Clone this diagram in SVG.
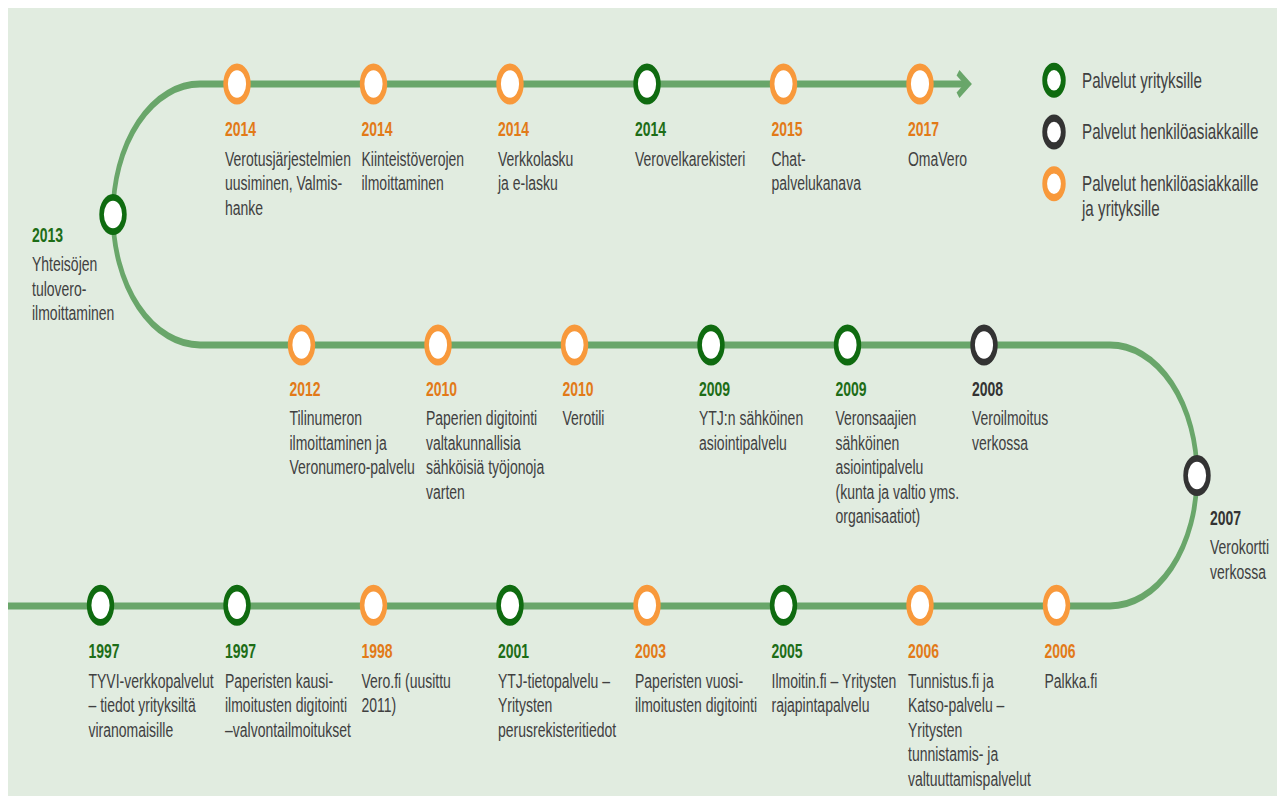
<svg xmlns="http://www.w3.org/2000/svg" width="1277" height="796" viewBox="0 0 1277 796">
<defs>
<style>
.bg{fill:#e1ece0}
.track{fill:none;stroke:#69a66a;stroke-width:4.7}
.arrow{fill:none;stroke:#69a66a;stroke-width:4.7;stroke-linejoin:miter}
.n{fill:#ffffff;stroke-width:4.6}
.lg{fill:#ffffff;stroke-width:4.8}
.g{stroke:#0f6b10}
.o{stroke:#f8993b}
.k{stroke:#333333}
.yr{font-family:"Liberation Sans",Arial,sans-serif;font-size:14px;font-weight:bold}
.yg{fill:#1d6d17}
.yo{fill:#e27a18}
.yk{fill:#333333}
.t{font-family:"Liberation Sans",Arial,sans-serif;font-size:14px;fill:#404040}
.lt{font-family:"Liberation Sans",Arial,sans-serif;font-size:15.2px;fill:#404040}
</style>
</defs>
<rect class="bg" x="8" y="8" width="1269" height="788"/>
<g transform="scale(1,1.5)">
<g id="connectors">
<path class="track" d="M968,56 H200 A87,87 0 0 0 200,230 H1110 A87,87 0 0 1 1110,404 H8"/>
<path class="arrow" d="M958,48.5 L968,56 L958,63.5"/>
</g>

<g id="legend">
<circle class="lg g" cx="1054" cy="53.5" r="9.3"/>
<text class="lt" x="1082" y="58.5">Palvelut yrityksille</text>
<circle class="lg k" cx="1054" cy="88" r="9.3"/>
<text class="lt" x="1082" y="93">Palvelut henkilöasiakkaille</text>
<circle class="lg o" cx="1054" cy="122.5" r="9.3"/>
<text class="lt" x="1082" y="127.5">Palvelut henkilöasiakkaille<tspan x="1082" dy="16.8">ja yrityksille</tspan></text>
</g>

<!-- top row -->
<g id="n2014a">
<circle class="n o" cx="237" cy="56" r="11.4"/>
<text class="yr yo" x="225" y="91">2014</text>
<text class="t" x="225" y="110.5">Verotusjärjestelmien<tspan x="225" dy="16.3">uusiminen, Valmis-</tspan><tspan x="225" dy="16.3">hanke</tspan></text>
</g>
<g id="n2014b">
<circle class="n o" cx="373.5" cy="56" r="11.4"/>
<text class="yr yo" x="361.5" y="91">2014</text>
<text class="t" x="361.5" y="110.5">Kiinteistöverojen<tspan x="361.5" dy="16.3">ilmoittaminen</tspan></text>
</g>
<g id="n2014c">
<circle class="n o" cx="510" cy="56" r="11.4"/>
<text class="yr yo" x="498" y="91">2014</text>
<text class="t" x="498" y="110.5">Verkkolasku<tspan x="498" dy="16.3">ja e-lasku</tspan></text>
</g>
<g id="n2014d">
<circle class="n g" cx="647" cy="56" r="11.4"/>
<text class="yr yg" x="635" y="91">2014</text>
<text class="t" x="635" y="110.5">Verovelkarekisteri</text>
</g>
<g id="n2015">
<circle class="n o" cx="783.5" cy="56" r="11.4"/>
<text class="yr yo" x="771.5" y="91">2015</text>
<text class="t" x="771.5" y="110.5">Chat-<tspan x="771.5" dy="16.3">palvelukanava</tspan></text>
</g>
<g id="n2017">
<circle class="n o" cx="920" cy="56" r="11.4"/>
<text class="yr yo" x="908" y="91">2017</text>
<text class="t" x="908" y="110.5">OmaVero</text>
</g>

<!-- 2013 -->
<g id="n2013">
<circle class="n g" cx="113" cy="143" r="11.4"/>
<text class="yr yg" x="32" y="161.5">2013</text>
<text class="t" x="32" y="180.8">Yhteisöjen<tspan x="32" dy="16.3">tulovero-</tspan><tspan x="32" dy="16.3">ilmoittaminen</tspan></text>
</g>

<!-- middle row -->
<g id="n2012">
<circle class="n o" cx="301.5" cy="230" r="11.4"/>
<text class="yr yo" x="289.5" y="264">2012</text>
<text class="t" x="289.5" y="283.5">Tilinumeron<tspan x="289.5" dy="16.3">ilmoittaminen ja</tspan><tspan x="289.5" dy="16.3">Veronumero-palvelu</tspan></text>
</g>
<g id="n2010a">
<circle class="n o" cx="438" cy="230" r="11.4"/>
<text class="yr yo" x="426" y="264">2010</text>
<text class="t" x="426" y="283.5">Paperien digitointi<tspan x="426" dy="16.3">valtakunnallisia</tspan><tspan x="426" dy="16.3">sähköisiä työjonoja</tspan><tspan x="426" dy="16.3">varten</tspan></text>
</g>
<g id="n2010b">
<circle class="n o" cx="574.5" cy="230" r="11.4"/>
<text class="yr yo" x="562.5" y="264">2010</text>
<text class="t" x="562.5" y="283.5">Verotili</text>
</g>
<g id="n2009a">
<circle class="n g" cx="711" cy="230" r="11.4"/>
<text class="yr yg" x="699" y="264">2009</text>
<text class="t" x="699" y="283.5">YTJ:n sähköinen<tspan x="699" dy="16.3">asiointipalvelu</tspan></text>
</g>
<g id="n2009b">
<circle class="n g" cx="847.5" cy="230" r="11.4"/>
<text class="yr yg" x="835.5" y="264">2009</text>
<text class="t" x="835.5" y="283.5">Veronsaajien<tspan x="835.5" dy="16.3">sähköinen</tspan><tspan x="835.5" dy="16.3">asiointipalvelu</tspan><tspan x="835.5" dy="16.3">(kunta ja valtio yms.</tspan><tspan x="835.5" dy="16.3">organisaatiot)</tspan></text>
</g>
<g id="n2008">
<circle class="n k" cx="984" cy="230" r="11.4"/>
<text class="yr yk" x="972" y="264">2008</text>
<text class="t" x="972" y="283.5">Veroilmoitus<tspan x="972" dy="16.3">verkossa</tspan></text>
</g>

<!-- 2007 -->
<g id="n2007">
<circle class="n k" cx="1197" cy="317" r="11.4"/>
<text class="yr yk" x="1210" y="350">2007</text>
<text class="t" x="1210" y="369.5">Verokortti<tspan x="1210" dy="16.3">verkossa</tspan></text>
</g>

<!-- bottom row -->
<g id="n1997a">
<circle class="n g" cx="100.5" cy="403.5" r="11.4"/>
<text class="yr yg" x="88.5" y="438.5">1997</text>
<text class="t" x="88.5" y="458.5">TYVI-verkkopalvelut<tspan x="88.5" dy="16.3">– tiedot yrityksiltä</tspan><tspan x="88.5" dy="16.3">viranomaisille</tspan></text>
</g>
<g id="n1997b">
<circle class="n g" cx="237" cy="403.5" r="11.4"/>
<text class="yr yg" x="225" y="438.5">1997</text>
<text class="t" x="225" y="458.5">Paperisten kausi-<tspan x="225" dy="16.3">ilmoitusten digitointi</tspan><tspan x="225" dy="16.3">–valvontailmoitukset</tspan></text>
</g>
<g id="n1998">
<circle class="n o" cx="373.5" cy="403.5" r="11.4"/>
<text class="yr yo" x="361.5" y="438.5">1998</text>
<text class="t" x="361.5" y="458.5">Vero.fi (uusittu<tspan x="361.5" dy="16.3">2011)</tspan></text>
</g>
<g id="n2001">
<circle class="n g" cx="510" cy="403.5" r="11.4"/>
<text class="yr yg" x="498" y="438.5">2001</text>
<text class="t" x="498" y="458.5">YTJ-tietopalvelu –<tspan x="498" dy="16.3">Yritysten</tspan><tspan x="498" dy="16.3">perusrekisteritiedot</tspan></text>
</g>
<g id="n2003">
<circle class="n o" cx="647" cy="403.5" r="11.4"/>
<text class="yr yo" x="635" y="438.5">2003</text>
<text class="t" x="635" y="458.5">Paperisten vuosi-<tspan x="635" dy="16.3">ilmoitusten digitointi</tspan></text>
</g>
<g id="n2005">
<circle class="n g" cx="783.5" cy="403.5" r="11.4"/>
<text class="yr yg" x="771.5" y="438.5">2005</text>
<text class="t" x="771.5" y="458.5">Ilmoitin.fi – Yritysten<tspan x="771.5" dy="16.3">rajapintapalvelu</tspan></text>
</g>
<g id="n2006a">
<circle class="n o" cx="920" cy="403.5" r="11.4"/>
<text class="yr yo" x="908" y="438.5">2006</text>
<text class="t" x="908" y="458.5">Tunnistus.fi ja<tspan x="908" dy="16.3">Katso-palvelu –</tspan><tspan x="908" dy="16.3">Yritysten</tspan><tspan x="908" dy="16.3">tunnistamis- ja</tspan><tspan x="908" dy="16.3">valtuuttamispalvelut</tspan></text>
</g>
<g id="n2006b">
<circle class="n o" cx="1056.5" cy="403.5" r="11.4"/>
<text class="yr yo" x="1044.5" y="438.5">2006</text>
<text class="t" x="1044.5" y="458.5">Palkka.fi</text>
</g>
</g>
</svg>
